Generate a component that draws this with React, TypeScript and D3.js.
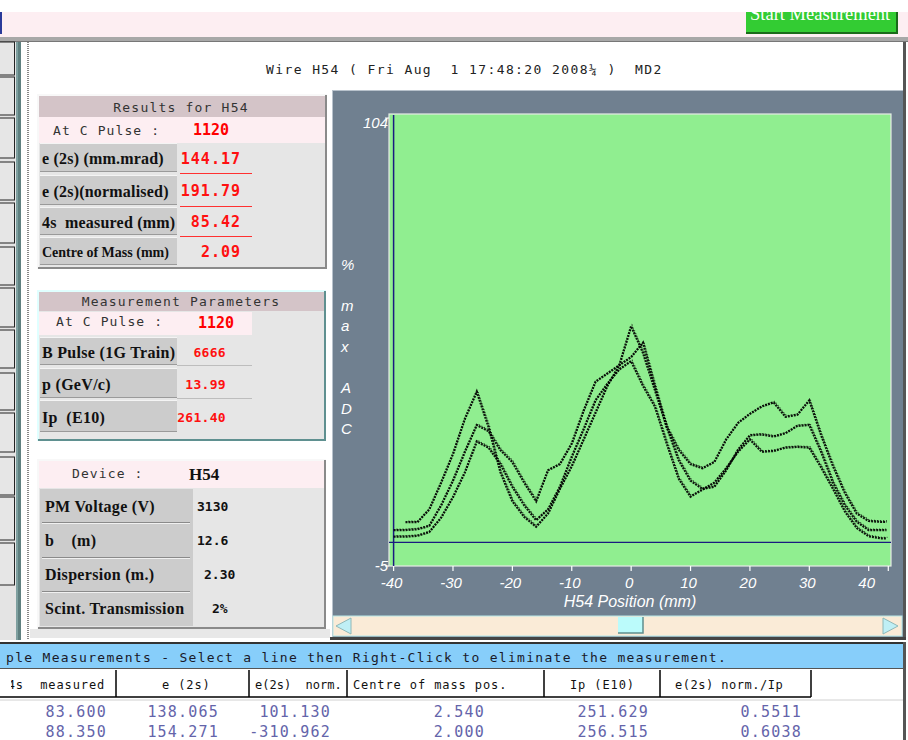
import React from 'react';
import * as d3 from 'd3';

// ---------- chart data ----------
const positions = [-40, -38, -36, -34, -32, -30, -28, -26, -24, -22, -20, -18, -16, -14, -12, -10, -8, -6, -4, -2, 0, 2, 4, 6, 8, 10, 12, 14, 16, 18, 20, 22, 24, 26, 28, 30, 32, 34, 36, 38, 40, 42, 43];
const traceA: (number | null)[] = [null, 4.9, 4.9, 8, 14.5, 21.5, 30, 36.6, 28, 17, 10, 6.2, 3.8, 7, 13, 18.5, 25, 31.5, 38, 43, 52.5, 46, 37, 28, 22.5, 19, 18, 19.5, 25, 29, 31.2, 33, 34, 30.5, 31, 34.5, 26, 18.5, 12, 7, 5.2, 5, 5];
const traceB: (number | null)[] = [3.0, 3.0, 3.2, 4, 9, 15, 22, 28.5, 27, 22.4, 19.5, 14.5, 10, 17.5, 19, 24, 32, 39, 41, 43, 45, 48.5, 38, 28, 20, 15, 13, 13.5, 17.5, 22.5, 26, 26.2, 25.7, 26.5, 28.3, 28.5, 22, 14.5, 9, 5, 3, 3, 3];
const traceC: (number | null)[] = [1.4, 1.4, 1.6, 2.5, 6, 11, 17, 24.5, 23, 19, 13.5, 9, 5.4, 8, 13.5, 20.8, 27.5, 34.5, 38.5, 42, 44, 38, 33, 24, 15.5, 11.1, 12.8, 14.5, 18, 22, 25, 22, 22.2, 23, 23.2, 23, 18.2, 13, 7.5, 3.5, 1.5, 1.0, 1.0];
const xTicks = [-40, -30, -20, -10, 0, 10, 20, 30, 40];
const xAxisEnd = 43.3;
const yTickLabels = [104, -5];
const baselineValue = 0;
const yTitleChars = ['%', '', 'm', 'a', 'x', '', 'A', 'D', 'C'];
const xTitle = 'H54 Position (mm)';
const chartTitle = 'Wire H54 ( Fri Aug  1 17:48:20 2008¼ )  MD2';

// ---------- panel texts ----------
const resultsTitle = 'Results for H54';
const pulseLabel = 'At C Pulse :';
const pulseValue = '1120';
const resultLabels = ['e (2s) (mm.mrad)', 'e (2s)(normalised)', '4s  measured (mm)', 'Centre of Mass (mm)'];
const resultValues = ['144.17', '191.79', '85.42', '2.09'];
const paramsTitle = 'Measurement Parameters';
const paramLabels = ['B Pulse (1G Train)', 'p (GeV/c)', 'Ip  (E10)'];
const paramValues = ['6666', '13.99', '261.40'];
const deviceLabel = 'Device :';
const deviceName = 'H54';
const deviceLabels = ['PM Voltage (V)', 'b    (m)', 'Dispersion (m.)', 'Scint. Transmission'];
const deviceValues = ['3130', '12.6', '2.30', '2%'];

// ---------- table texts ----------
const bannerText = 'ple Measurements - Select a line then Right-Click to eliminate the measurement.';
const tableHeaders = ['4s  measured', 'e (2s)', 'e(2s)  norm.', 'Centre of mass pos.', 'Ip (E10)', 'e(2s) norm./Ip'];
const tableRow1 = ['83.600', '138.065', '101.130', '2.540', '251.629', '0.5511'];
const tableRow2 = ['88.350', '154.271', '-310.962', '2.000', '256.515', '0.6038'];

const MONO = "'DejaVu Sans Mono', 'Liberation Mono', monospace";
const SERIF = "'Liberation Serif', 'DejaVu Serif', serif";
const SANS = "'Liberation Sans', Arial, sans-serif";

const pre = { whiteSpace: 'pre' as const };

function Cell({ x, y, w, h, fill = '#cccccc' }: { x: number; y: number; w: number; h: number; fill?: string }) {
  return (
    <g>
      <rect x={x} y={y} width={w} height={h} fill={fill} />
      <line x1={x} x2={x + w} y1={y + 0.5} y2={y + 0.5} stroke="#f4f4f4" />
      <line x1={x} x2={x + w} y1={y + h - 0.5} y2={y + h - 0.5} stroke="#9a9a9a" />
    </g>
  );
}

function Panel({ x, y, w, h, light, dark }: { x: number; y: number; w: number; h: number; light: string; dark: string }) {
  return (
    <g>
      <rect x={x} y={y} width={w} height={h} fill="#e6e6e6" />
      <path d={`M${x + 1},${y + h} V${y + 1} H${x + w}`} fill="none" stroke={light} strokeWidth={2} />
      <path d={`M${x + 1},${y + h - 1} H${x + w - 1} V${y + 1}`} fill="none" stroke={dark} strokeWidth={2} />
    </g>
  );
}

export default function App() {
  const x = d3.scaleLinear().domain([-40, 40]).range([393.6, 868.7]);
  const y = d3.scaleLinear().domain([-5, 104]).range([563, 114]);
  const plotL = 389, plotR = 891, plotT = 114, plotB = 566;

  const line = d3
    .line<[number, number | null]>()
    .defined((d) => d[1] != null)
    .x((d) => x(d[0]))
    .y((d) => y(d[1] as number));
  const series = [traceA, traceB, traceC].map((s) => positions.map((p, i) => [p, s[i]] as [number, number | null]));

  const stripBoxes = [[42, 75], [77, 115], [118, 158], [162, 200], [203, 243], [247, 285], [288, 327], [330, 368], [373, 410], [413, 452], [457, 495], [497, 540], [543, 585]];

  const resRows = [[143, 172], [175, 205], [207, 235], [237, 265]];
  const parRows = [[337, 365], [368, 398], [400, 432]];
  const devRows = [[490, 522], [523, 557], [558, 590], [592, 625]];
  const devValueX = [197, 197, 204, 212];

  const colEdges = [0, 116, 249, 347, 544, 660, 811];
  const headerStarts = [7.7, 162, 255, 353, 570, 675];
  const headerSpacing = [0.9, 0.9, 0, 0.9, 0.9, 0.5];
  const rowRight = [107, 219, 331, 485, 649, 802];

  return (
    <div style={{ position: 'fixed', left: 0, top: 0, width: 908, height: 740, background: '#fff' }}>
      <svg width={908} height={740} viewBox="0 0 908 740" style={{ display: 'block' }}>
        <defs>
          <clipPath id="btnClip"><rect x={746} y={12} width={151} height={21} /></clipPath>
          <clipPath id="hdrClip"><rect x={11} y={668} width={110} height={30} /></clipPath>
        </defs>
        <rect x={0} y={0} width={908} height={740} fill="#ffffff" />

        {/* top bar */}
        <rect x={0} y={12} width={908} height={25} fill="#fdeef2" />
        <rect x={0} y={12} width={2} height={22} fill="#2a3a9a" />
        <g clipPath="url(#btnClip)">
          <rect x={746} y={12} width={151} height={21} fill="#33cc33" />
          <text x={750} y={20} fontFamily={SERIF} fontSize={18.5} fill="#ffffff">Start Measurement</text>
        </g>
        <path d="M746,33 H897 V12" fill="none" stroke="#1a6a1a" strokeWidth={2} />
        <rect x={0} y={37} width={908} height={5} fill="#a8a8a8" />
        <line x1={0} x2={908} y1={41.5} y2={41.5} stroke="#777" />

        {/* main area */}
        <rect x={0} y={42} width={16} height={598} fill="#e4e4e4" />
        {stripBoxes.map(([a, b], i) => (
          <rect key={i} x={-2} y={a} width={16.5} height={b - a} fill="#e6e6e6" stroke="#222" strokeWidth={1} />
        ))}
        <rect x={16} y={42} width={5} height={598} fill="#5f8080" />
        <line x1={17} x2={17} y1={42} y2={640} stroke="#9fbfbf" />
        <line x1={28} x2={28} y1={42} y2={640} stroke="#888" strokeDasharray="1 1" strokeWidth={2} />
        <rect x={903} y={42} width={3} height={598} fill="#555" />

        <text x={266} y={69} dominantBaseline="central" fontFamily={MONO} fontSize={13} letterSpacing={1.4} fill="#222" style={pre}>{chartTitle}</text>

        {/* Results panel */}
        <Panel x={37} y={94} w={290} h={175} light="#f8f8f8" dark="#8a8a8a" />
        <rect x={39} y={96} width={286} height={21} fill="#d4c4c8" />
        <text x={181} y={107} textAnchor="middle" dominantBaseline="central" fontFamily={MONO} fontSize={13} letterSpacing={1.2} fill="#333">{resultsTitle}</text>
        <rect x={39} y={117} width={286} height={26} fill="#fdeef2" />
        <text x={53} y={130} dominantBaseline="central" fontFamily={MONO} fontSize={13} letterSpacing={1.1} fill="#333" style={pre}>{pulseLabel}</text>
        <text x={193} y={130} dominantBaseline="central" fontFamily={MONO} fontSize={15} fontWeight="bold" fill="#ff0000">{pulseValue}</text>
        {resRows.map(([a, b], i) => (
          <g key={i}>
            <Cell x={40} y={a} w={137} h={b - a} />
            <text x={42} y={(a + b) / 2 + 1} dominantBaseline="central" fontFamily={SERIF} fontWeight="bold" fontSize={i === 3 ? 14 : 16} letterSpacing={i === 3 ? 0 : 0.2} fill="#111" style={pre}>{resultLabels[i]}</text>
            <text x={241} y={(a + b) / 2 + 1} textAnchor="end" dominantBaseline="central" fontFamily={MONO} fontSize={15} fontWeight="bold" letterSpacing={1} fill="#ff1010">{resultValues[i]}</text>
            {i < 3 && <line x1={180} x2={252} y1={b + 1.5} y2={b + 1.5} stroke="#ff3030" strokeWidth={1} />}
          </g>
        ))}

        {/* Measurement parameters panel */}
        <Panel x={37} y={290} w={289} h={151} light="#e0ffff" dark="#5f9090" />
        <rect x={39} y={292} width={285} height={19} fill="#d4c4c8" />
        <text x={181} y={301} textAnchor="middle" dominantBaseline="central" fontFamily={MONO} fontSize={13} letterSpacing={1.2} fill="#333">{paramsTitle}</text>
        <rect x={39} y={312} width={213} height={23} fill="#fdeef2" />
        <text x={56} y={321} dominantBaseline="central" fontFamily={MONO} fontSize={13} letterSpacing={1.1} fill="#333" style={pre}>{pulseLabel}</text>
        <text x={198} y={323} dominantBaseline="central" fontFamily={MONO} fontSize={15} fontWeight="bold" fill="#ff0000">{pulseValue}</text>
        {parRows.map(([a, b], i) => (
          <g key={i}>
            <Cell x={40} y={a} w={137} h={b - a} />
            <text x={42} y={(a + b) / 2 + 1} dominantBaseline="central" fontFamily={SERIF} fontWeight="bold" fontSize={16} letterSpacing={0.3} fill="#111" style={pre}>{paramLabels[i]}</text>
            <text x={226} y={(a + b) / 2 + 1} textAnchor="end" dominantBaseline="central" fontFamily={MONO} fontSize={13} fontWeight="bold" letterSpacing={0.3} fill="#ff1010">{paramValues[i]}</text>
            {i < 2 && <line x1={177} x2={252} y1={b + 0.5} y2={b + 0.5} stroke="#bdbdbd" />}
          </g>
        ))}

        {/* Device panel */}
        <Panel x={37} y={459} w={289} h={170} light="#f8f8f8" dark="#8a8a8a" />
        <rect x={39} y={461} width={285} height={27} fill="#fdeef2" />
        <text x={72} y={473} dominantBaseline="central" fontFamily={MONO} fontSize={13} letterSpacing={1.1} fill="#333" style={pre}>{deviceLabel}</text>
        <text x={189} y={474} dominantBaseline="central" fontFamily={SERIF} fontSize={17} fontWeight="bold" fill="#111">{deviceName}</text>
        <rect x={40} y={489} width={153} height={137} fill="#cccccc" />
        {devRows.map(([a, b], i) => (
          <g key={i}>
            {i > 0 && <line x1={42} x2={190} y1={a - 0.5} y2={a - 0.5} stroke="#8a8a8a" />}
            {i > 0 && <line x1={42} x2={190} y1={a + 0.5} y2={a + 0.5} stroke="#f0f0f0" />}
            <text x={45} y={(a + b) / 2} dominantBaseline="central" fontFamily={SERIF} fontWeight="bold" fontSize={16} letterSpacing={0.3} fill="#111" style={pre}>{deviceLabels[i]}</text>
            <text x={devValueX[i]} y={(a + b) / 2} dominantBaseline="central" fontFamily={MONO} fontSize={13} fontWeight="bold" fill="#111">{deviceValues[i]}</text>
          </g>
        ))}
        <rect x={30} y={629} width={300} height={9} fill="#e8e8e8" />

        {/* chart panel */}
        <rect x={332} y={90} width={571} height={550} fill="#708090" />
        <line x1={332} x2={903} y1={90.5} y2={90.5} stroke="#b8c2cc" />
        <line x1={332.5} x2={332.5} y1={90} y2={637} stroke="#b8c2cc" />
        <rect x={330} y={637} width={576} height={3} fill="#444" />
        <rect x={plotL} y={plotT} width={plotR - plotL} height={plotB - plotT} fill="#90ee90" stroke="#e6ece6" strokeWidth={1.2} />

        {/* y axis labels */}
        {yTickLabels.map((v) => (
          <g key={v}>
            <line x1={385} x2={plotL} y1={y(v) + (v > 0 ? 4 : 3)} y2={y(v) + (v > 0 ? 4 : 3)} stroke="#ffffff" />
            <text x={388} y={y(v) + (v > 0 ? 8 : 2)} textAnchor="end" dominantBaseline="central" fontFamily={SANS} fontStyle="italic" fontSize={15} fill="#ffffff">{v}</text>
          </g>
        ))}
        {yTitleChars.map((c, i) => (
          <text key={i} x={341} y={264 + i * 20.6} dominantBaseline="central" fontFamily={SANS} fontStyle="italic" fontSize={15} fill="#ffffff">{c}</text>
        ))}

        {/* x axis */}
        {xTicks.map((t) => (
          <g key={t}>
            <line x1={x(t)} x2={x(t)} y1={plotB} y2={plotB + 5} stroke="#ffffff" strokeWidth={1.2} />
            <text x={x(t) - 2} y={582} textAnchor="middle" dominantBaseline="central" fontFamily={SANS} fontStyle="italic" fontSize={15} fill="#ffffff">{t}</text>
          </g>
        ))}
        <line x1={x(xAxisEnd)} x2={x(xAxisEnd)} y1={plotB} y2={plotB + 5} stroke="#ffffff" strokeWidth={1.2} />
        <text x={630} y={601} textAnchor="middle" dominantBaseline="central" fontFamily={SANS} fontStyle="italic" fontSize={16} fill="#ffffff">{xTitle}</text>

        {/* reference lines */}
        <line x1={x(-40)} x2={x(-40)} y1={plotT + 1} y2={plotB} stroke="#1a1a80" strokeWidth={1.5} />
        <line x1={plotL} x2={plotR} y1={y(baselineValue)} y2={y(baselineValue)} stroke="#1a1a80" strokeWidth={1.3} />

        {/* traces */}
        {series.map((s, i) => (
          <g key={i}>
            <path d={line(s) || ''} fill="none" stroke="#000" strokeWidth={2.3} strokeDasharray="2 1" opacity={0.9} />
            <path d={line(s) || ''} fill="none" stroke="#000" strokeWidth={1.2} strokeDasharray="1 2" strokeDashoffset={1} transform="translate(0.9,-1)" opacity={0.75} />
          </g>
        ))}

        {/* scrollbar */}
        <rect x={333} y={616} width={569} height={20} fill="#faebd7" stroke="#b8e8e8" />
        <path d="M336,626 L351,618 L351,634 Z" fill="#bfeff5" stroke="#8fb8b8" />
        <path d="M898,626 L883,618 L883,634 Z" fill="#bfeff5" stroke="#8fb8b8" />
        <rect x={618} y={617} width={25} height={16} fill="#bbfbfb" />
        <path d="M618,633 H643 V617" fill="none" stroke="#5f8f8f" strokeWidth={1.5} />

        {/* bottom banner */}
        <rect x={0} y={642} width={905} height={2} fill="#333" />
        <rect x={0} y={644} width={903} height={24} fill="#87cefa" />
        <line x1={0} x2={903} y1={668.5} y2={668.5} stroke="#555" />
        <rect x={903} y={642} width={3} height={98} fill="#555" />
        <text x={6} y={657} dominantBaseline="central" fontFamily={MONO} fontSize={13} letterSpacing={1.3} fill="#1a1a2a" style={pre}>{bannerText}</text>

        {/* table header */}
        {colEdges.slice(1).map((e, i) => (
          <line key={i} x1={e} x2={e} y1={670} y2={697} stroke="#000" strokeWidth={1.5} />
        ))}
        <line x1={0} x2={811} y1={697} y2={697} stroke="#000" strokeWidth={1.5} />
        <line x1={0} x2={903} y1={700} y2={700} stroke="#d0d0d0" />
        {tableHeaders.map((h, i) => (
          <text key={i} x={headerStarts[i]} y={685} dominantBaseline="central" fontFamily={MONO} fontSize={12} letterSpacing={headerSpacing[i]} fill="#111" style={pre} clipPath={i === 0 ? 'url(#hdrClip)' : undefined}>{h}</text>
        ))}
        {[tableRow1, tableRow2].map((row, r) =>
          row.map((v, i) => (
            <text key={`${r}-${i}`} x={rowRight[i]} y={712 + r * 19.5} textAnchor="end" dominantBaseline="central" fontFamily={MONO} fontSize={15} letterSpacing={1.2} fill="#6464aa">{v}</text>
          ))
        )}
      </svg>
    </div>
  );
}
